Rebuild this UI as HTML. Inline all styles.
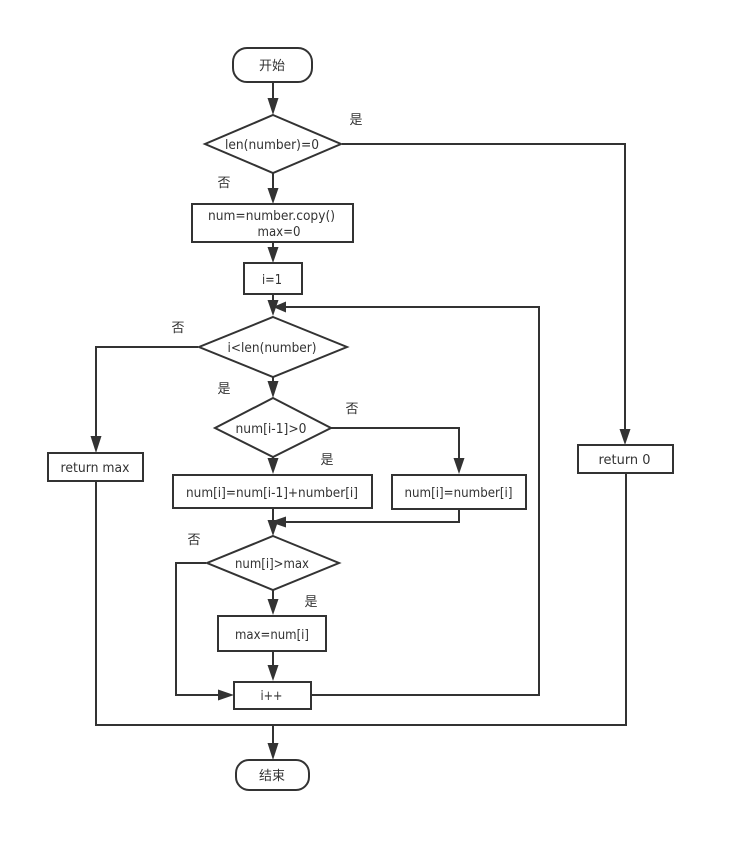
<!DOCTYPE html>
<html><head><meta charset="utf-8"><style>
html,body{margin:0;padding:0;background:#fff;width:735px;height:852px;overflow:hidden}
svg{display:block}
text{font-family:"DejaVu Sans","Noto Sans CJK SC",sans-serif;font-size:13px;fill:#333;text-anchor:middle}
.s{fill:#fff;stroke:#333;stroke-width:2}
.l{fill:none;stroke:#333;stroke-width:2}
.a{fill:#333;stroke:none}
</style></head><body>
<svg width="735" height="852" viewBox="0 0 735 852" xmlns="http://www.w3.org/2000/svg">
<!-- lines -->
<path class="l" d="M273 82V98"/>
<path class="l" d="M273 173V189"/>
<path class="l" d="M273 242V247"/>
<path class="l" d="M273 294V300"/>
<path class="l" d="M273 376V382"/>
<path class="l" d="M273 457V460"/>
<path class="l" d="M273 508V522"/>
<path class="l" d="M273 590V600"/>
<path class="l" d="M273 651V666"/>
<path class="l" d="M273 725V744"/>
<path class="l" d="M342 144H625V430"/>
<path class="l" d="M198 347H96V437"/>
<path class="l" d="M330 428H459V459"/>
<path class="l" d="M459 509V522H285"/>
<path class="l" d="M206 563H176V695H219"/>
<path class="l" d="M311 695H539V307H285"/>
<path class="l" d="M96 481V725H626V473"/>
<!-- arrowheads -->
<polygon class="a" points="267.500,98 278.500,98 273,115"/>
<polygon class="a" points="267.500,188 278.500,188 273,204"/>
<polygon class="a" points="267.500,247 278.500,247 273,263"/>
<polygon class="a" points="267.500,300 278.500,300 273,316"/>
<polygon class="a" points="267.500,381 278.500,381 273,398"/>
<polygon class="a" points="267.500,458 278.500,458 273,474"/>
<polygon class="a" points="267.500,520 278.500,520 273,536"/>
<polygon class="a" points="267.500,599 278.500,599 273,615"/>
<polygon class="a" points="267.500,665 278.500,665 273,681"/>
<polygon class="a" points="267.500,743 278.500,743 273,760"/>
<polygon class="a" points="619.500,429 630.500,429 625,445"/>
<polygon class="a" points="90.500,436 101.500,436 96,453"/>
<polygon class="a" points="453.500,458 464.500,458 459,474"/>
<polygon class="a" points="286,301.500 286,312.500 273,307"/>
<polygon class="a" points="286,516.500 286,527.500 270,522"/>
<polygon class="a" points="218,689.500 218,700.500 234,695"/>
<!-- shapes -->
<rect class="s" x="233" y="48" width="79" height="34" rx="14" ry="14"/>
<polygon class="s" points="273,115 341,144 273,173 205,144"/>
<rect class="s" x="192" y="204" width="161" height="38"/>
<rect class="s" x="244" y="263" width="58" height="31"/>
<polygon class="s" points="273,317 347,347 273,377 199,347"/>
<polygon class="s" points="273,398 331,428 273,457 215,428"/>
<rect class="s" x="48" y="453" width="95" height="28"/>
<rect class="s" x="173" y="475" width="199" height="33"/>
<rect class="s" x="392" y="475" width="134" height="34"/>
<rect class="s" x="578" y="445" width="95" height="28"/>
<polygon class="s" points="273,536 339,563 273,590 207,563"/>
<rect class="s" x="218" y="616" width="108" height="35"/>
<rect class="s" x="234" y="682" width="77" height="27"/>
<rect class="s" x="236" y="760" width="73" height="30" rx="13" ry="13"/>
<!-- labels -->
<text x="272" y="70">开始</text>
<text x="272" y="149" textLength="94" lengthAdjust="spacingAndGlyphs">len(number)=0</text>
<text x="271.500" y="220" textLength="127" lengthAdjust="spacingAndGlyphs">num=number.copy()</text>
<text x="279" y="236" textLength="43" lengthAdjust="spacingAndGlyphs">max=0</text>
<text x="272" y="284" textLength="20" lengthAdjust="spacingAndGlyphs">i=1</text>
<text x="272" y="352" textLength="89" lengthAdjust="spacingAndGlyphs">i&lt;len(number)</text>
<text x="271" y="433" textLength="71" lengthAdjust="spacingAndGlyphs">num[i-1]&gt;0</text>
<text x="95" y="472" textLength="69" lengthAdjust="spacingAndGlyphs">return max</text>
<text x="272" y="497" textLength="172" lengthAdjust="spacingAndGlyphs">num[i]=num[i-1]+number[i]</text>
<text x="458.500" y="497" textLength="108" lengthAdjust="spacingAndGlyphs">num[i]=number[i]</text>
<text x="624.500" y="464" textLength="52" lengthAdjust="spacingAndGlyphs">return 0</text>
<text x="272" y="568" textLength="74" lengthAdjust="spacingAndGlyphs">num[i]&gt;max</text>
<text x="272" y="639" textLength="74" lengthAdjust="spacingAndGlyphs">max=num[i]</text>
<text x="271.500" y="700" textLength="22" lengthAdjust="spacingAndGlyphs">i++</text>
<text x="272" y="780">结束</text>
<text x="356" y="124">是</text>
<text x="224" y="187">否</text>
<text x="178" y="332">否</text>
<text x="224" y="393">是</text>
<text x="352" y="413">否</text>
<text x="327" y="464">是</text>
<text x="194" y="544">否</text>
<text x="311" y="606">是</text>
</svg>
</body></html>
